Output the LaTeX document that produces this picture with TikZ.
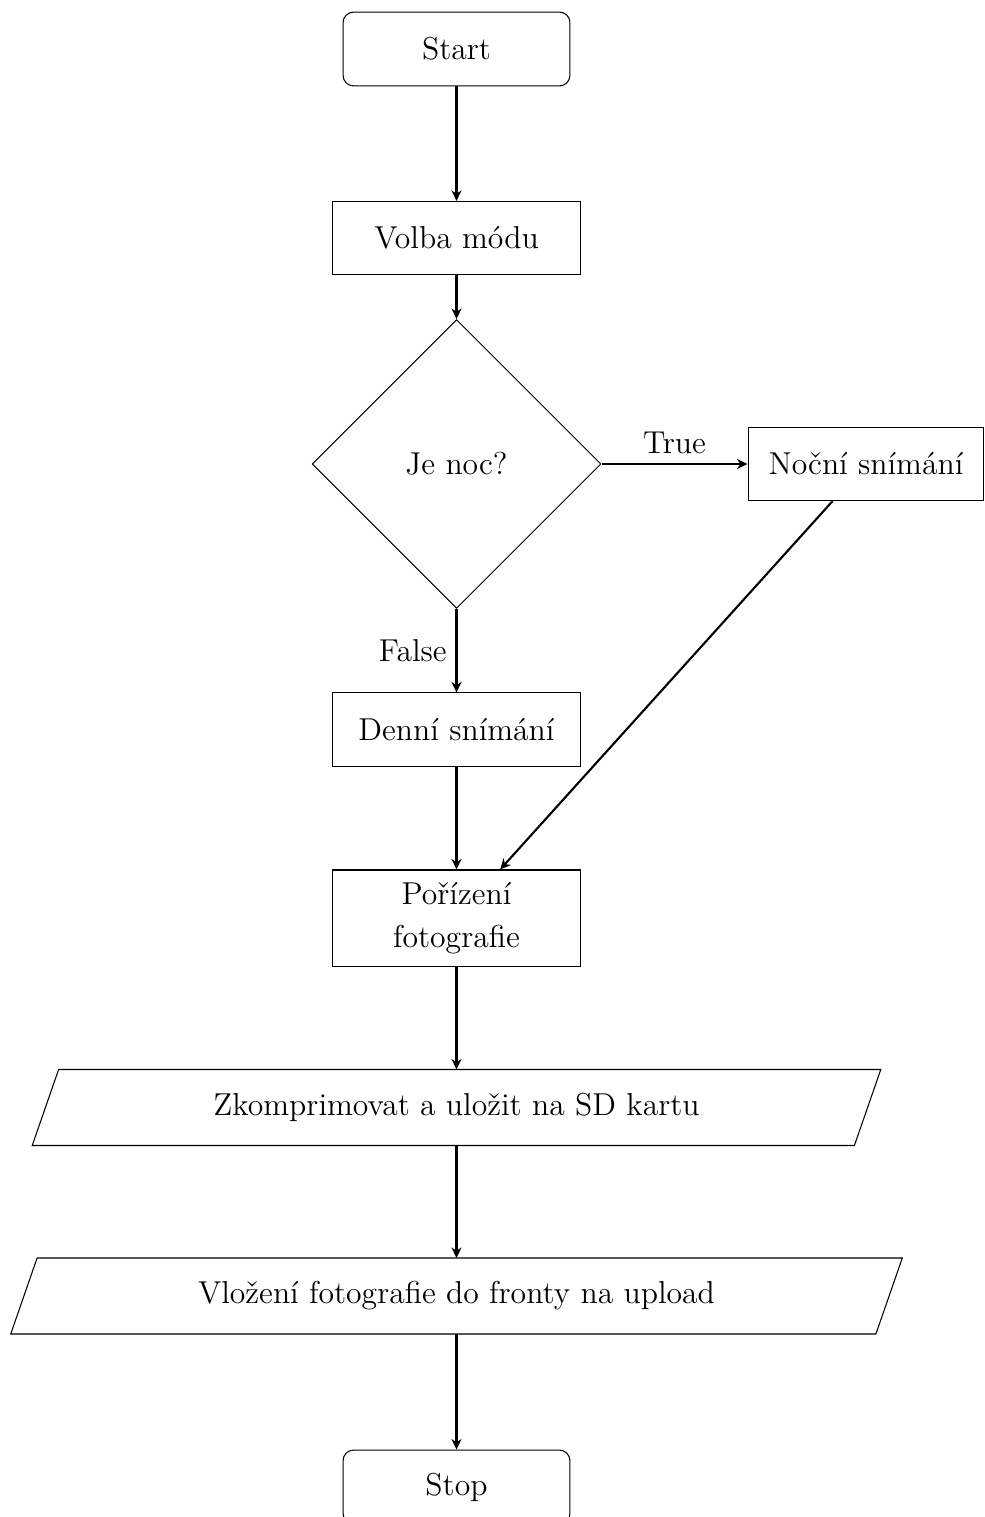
\documentclass[tikz,border=0pt]{standalone}
\usepackage{fontspec}
\usetikzlibrary{shapes.geometric,arrows.meta}
\begin{document}
\begin{tikzpicture}[x=0.379pt, y=-0.379pt,
  font=\fontsize{12}{16.5}\selectfont,
  term/.style={draw, rounded corners=4pt, minimum width=86pt, minimum height=28pt, inner sep=2pt},
  box/.style={draw, minimum width=94pt, minimum height=27.7pt, inner sep=2pt},
  dec/.style={draw, diamond, aspect=1, minimum width=109.5pt, minimum height=109.5pt, inner sep=0pt},
  io/.style={minimum height=28.4pt, inner sep=0pt},
  arr/.style={thick, -{Stealth[length=4pt, width=3.8pt]}}]
\useasboundingbox (0,0) rectangle (984,1517);
\node[term] (start) at (456.5,49) {Start};
\node[box] (volba) at (456.5,238) {Volba módu};
\node[dec] (noc) at (456.5,464) {Je noc?};
\node[box, minimum width=89.4pt] (nocni) at (866,464) {Noční snímání};
\node[box] (denni) at (456.5,729.5) {Denní snímání};
\node[box, minimum height=36.4pt, align=center] (foto) at (456.5,918) {Pořízení\\fotografie};
\node[io, minimum width=311.2pt] (zk) at (456.5,1107.5) {Zkomprimovat a uložit na SD kartu};
\node[io, minimum width=327.5pt] (vl) at (456.5,1296) {Vložení fotografie do fronty na upload};
\node[term] (stop) at (456.5,1487) {Stop};
\foreach \n in {zk,vl}
  \draw ([xshift=5pt]\n.north west) -- ([xshift=5pt]\n.north east) -- ([xshift=-5pt]\n.south east) -- ([xshift=-5pt]\n.south west) -- cycle;
\draw[arr] (start) -- (volba);
\draw[arr] (volba) -- (noc);
\draw[arr] (noc) -- node[above]{True} (nocni);
\draw[arr] (noc) -- node[left]{False} (denni);
\draw[arr] (denni) -- (foto);
\draw[arr] (nocni) -- (foto);
\draw[arr] (foto) -- (zk);
\draw[arr] (zk) -- (vl);
\draw[arr] (vl) -- (stop);
\end{tikzpicture}
\end{document}
